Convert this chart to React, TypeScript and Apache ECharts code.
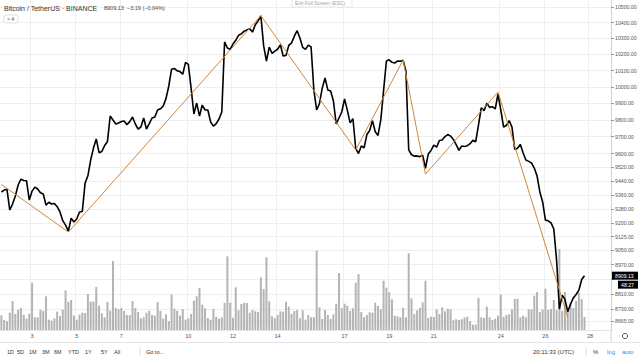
import React, { useEffect, useRef } from 'react';
import * as echarts from 'echarts';

// 3-hour closes, BTC/USDT Binance, Feb 2020 (first bar Feb 1 15:00 UTC)
const closes = [
  9377, 9388, 9392, 9274, 9308, 9354, 9417, 9451, 9443, 9442,
  9331, 9382, 9405, 9394, 9372, 9365, 9302, 9318, 9308, 9311,
  9293, 9263, 9214, 9189, 9155, 9228, 9206, 9223, 9263, 9266,
  9428, 9470, 9562, 9632, 9686, 9605, 9612, 9647, 9669, 9823,
  9799, 9775, 9781, 9790, 9793, 9771, 9789, 9817, 9775, 9745,
  9757, 9811, 9745, 9777, 9811, 9817, 9859, 9866, 9883, 9928,
  10005, 10108, 10113, 10098, 10093, 10077, 10150, 10138, 9992, 9835,
  9901, 9823, 9889, 9859, 9859, 9787, 9762, 9777, 9805, 9847,
  10278, 10240, 10232, 10265, 10288, 10320, 10329, 10346, 10353, 10362,
  10340, 10387, 10411, 10443, 10253, 10159, 10246, 10207, 10220, 10232,
  10260, 10190, 10193, 10256, 10272, 10314, 10349, 10303, 10244, 10231,
  10258, 10247, 9980, 9859, 9898, 9992, 10054, 9981, 9974, 9915,
  9775, 9811, 9847, 9926, 9857, 9782, 9807, 9631, 9600, 9644,
  9634, 9712, 9736, 9794, 9729, 9707, 9801, 9980, 10159, 10166,
  10151, 10146, 10159, 10157, 10163, 10097, 9621, 9593, 9585, 9586,
  9582, 9590, 9514, 9597, 9618, 9649, 9638, 9677, 9680, 9700,
  9712, 9703, 9683, 9653, 9619, 9644, 9641, 9646, 9658, 9678,
  9669, 9769, 9872, 9855, 9900, 9875, 9879, 9865, 9956, 9859,
  9757, 9766, 9795, 9757, 9624, 9631, 9654, 9603, 9562, 9554,
  9545, 9515, 9469, 9377, 9320, 9217, 9213, 9201, 9167, 8994,
  8729, 8804, 8781, 8715, 8756, 8789, 8807, 8831, 8888, 8909.13,
];

const volumes = [
  14.7, 10, 8.7, 17.3, 29, 16, 20.3, 22, 15.3, 11.3, 16.3, 47.3, 12.7, 12.7, 20.3, 19, 33.7, 10.3, 9.3, 11.7, 18.3,
  14,
  20.3, 39.7, 28.3, 30, 14.3, 10.3, 15.3, 17.3, 17, 36, 28.3, 28.3, 43, 24.3, 16.7, 12.7, 28, 19.3, 69, 22, 20.7, 22, 19, 15,
  15, 29, 22, 18, 11.7, 12.7, 17.3, 19.3, 15, 14.3, 28, 19, 11.3, 15.7, 8.7, 35.3, 21.3, 19.3, 14.3, 21, 10.3, 11.7, 16, 29.3,
  33.7, 42, 25.3, 21.7, 12, 10.3, 21.3, 13.3, 11.3, 12.7, 27, 73.7, 27.3, 12.3, 42.7, 19.7, 26, 27.3, 27, 17.3, 20, 18.7, 18,
  52.7, 41, 72.7, 28.7, 13.7, 11.7, 15, 18.7, 18.3, 28.3, 23.3,
  16,
  19, 20, 11.7,
  19.7, 10.3, 15, 12.7, 12.7, 79.3, 22.7, 11, 20, 15, 11, 15.7, 26.3, 57, 22, 26.3, 24.3, 19, 21.7, 47.3, 56, 18, 12.7, 15,
  17.7, 17.3, 27.3, 24, 20.7, 49.3, 42.3, 37.7, 30.7, 14.3, 13.7, 12.7, 22.3, 12.7, 76.7, 31.7, 16, 19.7, 22, 27.7, 49.3, 12,
  13.3, 13, 20.7, 16, 22.7, 18.7, 21.3, 20.7, 9.7, 10.7, 10, 10.7, 12.7, 13.3, 9, 5.3, 5.3, 32, 12.7,
  12,
  23.3, 12.7, 10, 11.3, 14.3, 35.3, 13.3, 15, 15.7, 20.7, 31, 31.3, 12.7, 14.3, 12.7, 20.7, 20.7, 34.3, 38, 18, 20.3, 41.3,
  20, 21, 30, 20, 81,
  19, 38, 20, 27, 22, 29, 37, 31, 13,
];

const priceTicks = [10500, 10400, 10300, 10200, 10100, 10000, 9900, 9800, 9700, 9600, 9520, 9440, 9360, 9280, 9200, 9125, 9050, 8970, 8890, 8810, 8730, 8665];
const shownDays = [3, 5, 7, 10, 12, 14, 17, 19, 21, 24, 26, 28];

const waveIndex = [0, 24, 93, 127, 144, 152, 178, 203];
const wavePrice = [9420, 9150, 10445, 9621, 10165, 9480, 9968, 8686];

const waveLabelText = ['(a)', '(b)', 'i', 'ii', 'iii'];
const waveLabelIndex = [127, 144, 152, 178, 203];
const waveLabelPrice = [9411, 10328, 9405, 10047, 8658];
const waveLabelColor = ['#c62828', '#c62828', '#e0952f', '#e0952f', '#e0952f'];

const lastPrice = 8909.13;
const countdown = '48:27';
const SLOTS = 219;
const START = Date.UTC(2020, 1, 1, 15);
const H3 = 3 * 3600 * 1000;

const FONT = '"Liberation Sans", Arial, sans-serif';

export default function App() {
  const ref = useRef<HTMLDivElement>(null);
  useEffect(() => {
    const chart = echarts.init(ref.current!, null, { renderer: 'svg' });
    const cats: string[] = [];
    const showIdx: boolean[] = [];
    for (let i = 0; i < SLOTS; i++) {
      const d = new Date(START + i * H3);
      cats.push(String(d.getUTCDate()));
      showIdx.push(d.getUTCHours() === 0 && shownDays.includes(d.getUTCDate()));
    }
    const logTicks = priceTicks.map((p) => Math.log(p));

    chart.setOption({
      animation: false,
      grid: { left: 0, top: 0, width: 611, height: 330 },
      xAxis: {
        type: 'category',
        data: cats,
        boundaryGap: true,
        axisLine: { show: true, lineStyle: { color: '#e3e5ea' } },
        axisTick: { show: false },
        axisLabel: {
          interval: (i: number) => showIdx[i],
          fontSize: 5.5,
          color: '#555',
          margin: 3,
          fontFamily: FONT,
        },
        splitLine: { show: true, interval: (i: number) => showIdx[i], lineStyle: { color: '#eceef1', width: 1 } },
      },
      yAxis: [
        {
          type: 'value',
          position: 'right',
          min: Math.log(8618),
          max: Math.log(10545),
          axisLine: { show: true, lineStyle: { color: '#cfd2d8' } },
          axisTick: { show: true, length: 3, customValues: logTicks, lineStyle: { color: '#999' } },
          axisLabel: {
            customValues: logTicks,
            // the label hidden under the last-price box is not drawn, as in TradingView
            formatter: (v: number) => {
              const p = Math.exp(v);
              return Math.abs(p - lastPrice) < 30 ? '' : p.toFixed(2);
            },
            fontSize: 5.2,
            color: '#555',
            margin: 4,
            fontFamily: FONT,
          },
          splitLine: { show: true, lineStyle: { color: '#eceef1', width: 1 } },
        },
        { type: 'value', min: 0, max: 330, show: false, splitLine: { show: false } },
      ],
      series: [
        {
          type: 'bar',
          yAxisIndex: 1,
          data: volumes,
          barWidth: 2,
          itemStyle: { color: '#b4b4b4' },
          z: 1,
        },
        {
          type: 'line',
          data: closes.map((c) => Math.log(c)),
          symbol: 'none',
          lineStyle: { color: '#000', width: 1.6 },
          z: 3,
        },
        {
          type: 'line',
          data: waveIndex.map((i, k) => [i, Math.log(wavePrice[k])]),
          symbol: 'none',
          lineStyle: { color: '#d08737', width: 1 },
          z: 4,
        },
        {
          type: 'scatter',
          symbolSize: 1,
          itemStyle: { opacity: 0 },
          data: waveLabelText.map((t, k) => ({
            name: t,
            value: [waveLabelIndex[k], Math.log(waveLabelPrice[k])],
            label: { color: waveLabelColor[k] },
          })),
          label: { show: true, position: 'inside', formatter: '{b}', fontSize: 6, fontWeight: 'bold', fontFamily: FONT },
          z: 5,
        },
      ],
    });

    const py = chart.convertToPixel({ yAxisIndex: 0 }, Math.log(lastPrice)) as number;
    const txt = (text: string, x: number, y: number, size: number, fill: string, extra: any = {}) => ({
      type: 'text',
      x,
      y,
      z: 100,
      style: { text, fontSize: size, fill, fontFamily: FONT, textVerticalAlign: 'middle', ...extra },
    });
    const toolbar: [string, number][] = [
      ['1D', 7], ['5D', 17], ['1M', 29], ['3M', 42], ['6M', 54], ['YTD', 68], ['1Y', 85], ['5Y', 101], ['All', 114], ['Go to...', 146],
    ];
    chart.setOption({
      graphic: [
        txt('Bitcoin / TetherUS · BINANCE', 4, 8, 7, '#333'),
        txt('8909.13  −3.19 (−0.04%)', 104, 8, 5.5, '#444'),
        { type: 'rect', z: 100, shape: { x: 4, y: 15, width: 14, height: 8, r: 2 }, style: { fill: '#fff', stroke: '#d6d6d6', lineWidth: 0.8 } },
        txt('> 4', 7, 19.2, 5, '#444'),
        { type: 'rect', z: 100, shape: { x: 292, y: -1, width: 60, height: 8 }, style: { fill: '#fff', stroke: '#e2e2e2', lineWidth: 0.8 } },
        txt('Exit Full Screen (ESC)', 295, 3.2, 5, '#a0a0a0'),
        { type: 'line', z: 100, shape: { x1: 611, y1: 330, x2: 611, y2: 342 }, style: { stroke: '#cfd2d8', lineWidth: 1 } },
        { type: 'line', z: 100, shape: { x1: 0, y1: 342.5, x2: 640, y2: 342.5 }, style: { stroke: '#e3e5ea', lineWidth: 1 } },
        { type: 'circle', z: 100, shape: { cx: 625, cy: 336, r: 2.6 }, style: { fill: 'none', stroke: '#555', lineWidth: 1 } },
        ...toolbar.map(([t, x]) => txt(t, x, 351.5, 5.5, '#333')),
        { type: 'line', z: 100, shape: { x1: 140, y1: 347, x2: 140, y2: 356 }, style: { stroke: '#ddd', lineWidth: 1 } },
        txt('20:11:33 (UTC)', 533, 351.5, 6, '#333'),
        { type: 'line', z: 100, shape: { x1: 586, y1: 347, x2: 586, y2: 356 }, style: { stroke: '#ddd', lineWidth: 1 } },
        txt('%', 593, 351.5, 6, '#333'),
        txt('log', 607, 351.5, 6, '#2196f3'),
        txt('auto', 622, 351.5, 6, '#2196f3'),
        { type: 'rect', z: 100, shape: { x: 612, y: py - 4, width: 26, height: 8 }, style: { fill: '#000' } },
        txt(lastPrice.toFixed(2), 615, py, 5.2, '#fff'),
        { type: 'rect', z: 100, shape: { x: 618, y: py + 5, width: 20, height: 8 }, style: { fill: '#000' } },
        txt(countdown, 621, py + 9, 5.2, '#fff'),
      ],
    });
    return () => chart.dispose();
  }, []);
  return <div ref={ref} style={{ position: 'fixed', left: 0, top: 0, width: 640, height: 360, background: '#fff' }} />;
}
